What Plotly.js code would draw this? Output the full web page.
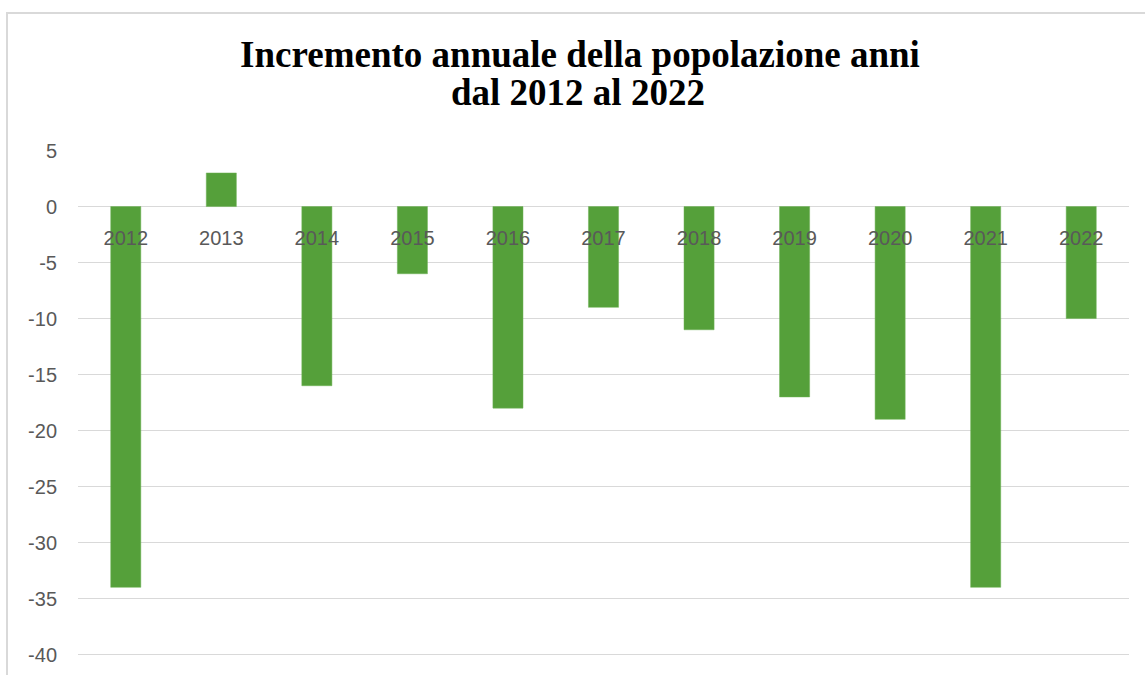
<!DOCTYPE html>
<html>
<head>
<meta charset="utf-8">
<script src="https://cdn.plot.ly/plotly-3.0.1.min.js"></script>
<style>
html,body{margin:0;padding:0;background:#fff;}
#wrap{position:relative;width:1145px;height:675px;overflow:hidden;}
#chart{width:1145px;height:675px;}
#frame{position:absolute;left:6px;top:12px;width:1150px;height:680px;border:2px solid #d9d9d9;box-sizing:border-box;pointer-events:none;}
</style>
</head>
<body>
<div id="wrap"><div id="chart"></div><div id="frame"></div></div>
<script>
const years = ['2012','2013','2014','2015','2016','2017','2018','2019','2020','2021','2022'];
const increments = [-34, 3, -16, -6, -18, -9, -11, -17, -19, -34, -10];
const yTicks = [5, 0, -5, -10, -15, -20, -25, -30, -35, -40];
const titleLine1 = 'Incremento annuale della popolazione anni';
const titleLine2 = 'dal 2012 al 2022';

const yMin = -40.4, yMax = 5.05;
const titleFont = {family: '"Liberation Serif", "Times New Roman", serif', size: 37, color: '#000000', weight: 'bold'};
const tickFont = {family: '"Liberation Sans", Arial, sans-serif', size: 20, color: '#595959'};

const trace = {
  type: 'bar',
  x: years,
  y: increments,
  marker: {color: '#55A03A', line: {color: '#6FB356', width: 0.5}},
  width: 0.315,
  hoverinfo: 'x+y'
};
const layout = {
  width: 1145, height: 675,
  margin: {l: 78, r: 16, t: 150, b: 16},
  paper_bgcolor: '#ffffff', plot_bgcolor: '#ffffff',
  showlegend: false,
  title: {
    text: titleLine1,
    font: titleFont,
    x: 580 / 1145, xanchor: 'center', xref: 'container',
    y: 1 - 54.5 / 675, yanchor: 'middle', yref: 'container'
  },
  annotations: [{
    text: titleLine2,
    font: titleFont,
    showarrow: false,
    xref: 'paper', yref: 'paper',
    x: (577.5 - 78) / 1051, xanchor: 'center',
    y: 1 + (150 - 92.5) / 509, yanchor: 'middle'
  }],
  xaxis: {
    type: 'category',
    anchor: 'free',
    position: (0 - yMin) / (yMax - yMin),
    showgrid: false, zeroline: false, showline: false,
    ticks: '',
    ticklabelstandoff: 17,
    tickfont: tickFont
  },
  yaxis: {
    range: [yMin, yMax],
    tickvals: yTicks,
    ticktext: yTicks.map(String),
    showgrid: true, gridcolor: '#d9d9d9', gridwidth: 1.5,
    zeroline: false, showline: false,
    ticks: '',
    ticklabelstandoff: 20,
    tickfont: tickFont
  },
  bargap: 0.685
};
Plotly.newPlot('chart', [trace], layout, {displayModeBar: false, staticPlot: true});
</script>
</body>
</html>
